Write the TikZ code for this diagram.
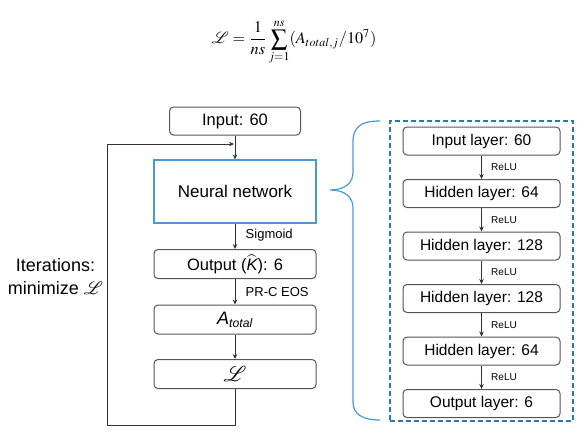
\documentclass[tikz,border=0pt]{standalone}
\usepackage{mathptmx}
\usepackage{fontspec}
\setmainfont{Liberation Sans}
\usetikzlibrary{positioning,arrows.meta}
\definecolor{boxgray}{HTML}{555555}
\definecolor{nnblue}{HTML}{4A9AD4}
\definecolor{dashblue}{HTML}{2E75B6}
\tikzset{
  lbox/.style={draw=boxgray, line width=1pt, rounded corners=4pt, minimum width=162pt, minimum height=29pt, inner sep=0pt, font=\fontsize{16.5}{18}\selectfont},
  rbox/.style={draw=boxgray, line width=1pt, rounded corners=4pt, minimum width=157pt, minimum height=28pt, inner sep=0pt, font=\fontsize{15.5}{17}\selectfont},
  arr/.style={-{Stealth[length=5pt,width=4.5pt]}, line width=0.8pt, draw=black!80},
  lab/.style={midway, right, xshift=7pt, font=\fontsize{13}{14}\selectfont},
  relu/.style={midway, right, xshift=6pt, font=\fontsize{10}{12}\selectfont},
}
\begin{document}
\begin{tikzpicture}[x=1pt,y=1pt]
\useasboundingbox (0,0) rectangle (588,-436);
% loss formula
\node[scale=1.62] (eq) at (294,-42) {$\displaystyle \mathcal{L}=\frac{1}{ns}\sum_{j=1}^{ns}(A_{total,j}/10^7)$};
% left column
\node[lbox, minimum width=131pt, minimum height=28pt] (inp) at (235,-121) {Input: 60};
\node[draw=nnblue, line width=1.2pt, minimum width=162pt, minimum height=63pt, font=\fontsize{17}{19}\selectfont] (nn) at (235,-191.5) {Neural network};
\node[lbox] (out) at (235,-264) {Output ($\widehat{\mbox{\itshape K}}$): 6};
\node[lbox] (atot) at (235,-319.5) {{\fontsize{18}{20}\selectfont\itshape A}\textsubscript{\itshape total}};
\node[lbox] (loss) at (235,-374) {\scalebox{1.3}{$\mathcal{L}$}};
\coordinate (jn) at (235,-144);
\coordinate (cnr) at (107,-425);
\draw[arr] (inp) -- (nn);
\draw[arr] (nn) -- node[lab, yshift=1pt]{Sigmoid} (out);
\draw[arr] (out) -- node[lab]{PR-C EOS} (atot);
\draw[arr] (atot) -- (loss);
\draw[arr, shorten >=1pt] (loss.south) |- (cnr) |- (jn);
\node[align=center, font=\fontsize{18}{23}\selectfont] (iter) at (55.5,-277) {Iterations:\\minimize $\mathcal{L}$};
% brace
\draw[nnblue, line width=1.2pt] (380,-121) .. controls (362,-121) and (353,-126) .. (353,-142) -- (353,-172)
  .. controls (353,-183) and (345,-190) .. (330,-190)
  .. controls (345,-190) and (353,-197) .. (353,-208) -- (353,-402)
  .. controls (353,-414) and (362,-420) .. (380,-420);
% network layers
\node[draw=dashblue, line width=1.2pt, dash pattern=on 5pt off 3pt, minimum width=183pt, minimum height=300pt] (detail) at (481.5,-271) {};
\node[rbox] (il) at (481.5,-141) {Input layer: 60};
\node[rbox, below=23.5pt of il] (h1) {Hidden layer: 64};
\node[rbox, below=23.5pt of h1] (h2) {Hidden layer: 128};
\node[rbox, below=23.5pt of h2] (h3) {Hidden layer: 128};
\node[rbox, below=23.5pt of h3] (h4) {Hidden layer: 64};
\node[rbox, below=23.5pt of h4] (ol) {Output layer: 6};
\foreach \a/\b in {il/h1,h1/h2,h2/h3,h3/h4,h4/ol}
  \draw[arr] (\a) -- node[relu]{ReLU} (\b);
\end{tikzpicture}
\end{document}
